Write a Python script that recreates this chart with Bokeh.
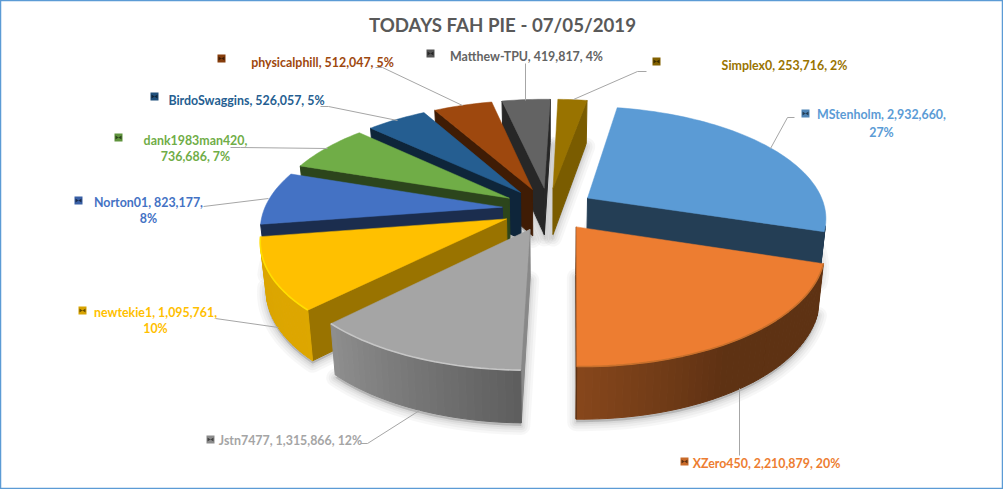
import numpy as np
from bokeh.plotting import figure
from bokeh.models import Range1d, ColumnDataSource
from bokeh.core.properties import value as bv
from bokeh.embed import file_html
from bokeh.resources import INLINE

# ---- data
names = ["MStenholm", "XZero450", "Jstn7477", "newtekie1", "Norton01", "dank1983man420",
         "BirdoSwaggins", "physicalphill", "Matthew-TPU", "Simplex0"]
values = [2932660, 2210879, 1315866, 1095761, 823177, 736686, 526057, 512047, 419817, 253716]
percents = [27, 20, 12, 10, 8, 7, 5, 5, 4, 2]
title = "TODAYS FAH PIE - 07/05/2019"

# ---- style
colors = ["#5B9BD5", "#ED7D31", "#A5A5A5", "#FFC000", "#4472C4", "#70AD47",
          "#255E91", "#9E480E", "#636363", "#997300"]
wall_shade = [.40, .40, .83, .60, .40, .40, .40, .40, .40, .80]
rim_colors = [None, "#c8702c", "#c6c6c6", "#ffdf00", None, None, None, None, None, None]
paint_order = [9, 8, 7, 6, 5, 4, 3, 0, 2, 1]

# ---- layout (page pixels)
wrap = [1, 0, 0, 1, 1, 2, 0, 0, 0, 0]            # 1: percent on line 2, 2: value on line 2
label_x = [881, 766, 290, 155, 148, 195, 246, 322, 526, 784]
label_y = [114, 463, 440, 312, 202, 140, 100, 62, 56, 65]
line2_y = [132, 0, 0, 328, 218, 156, 0, 0, 0, 0]
key_x = [805, 684, 210, 82, 78, 118, 154, 221, 430, 656]
key_y = [113, 461, 439, 310, 200, 137, 96, 58, 53, 61]
leaders = [
    ([794, 787, 770], [117, 117, 148]),
    ([739, 739], [455, 388]),
    ([360, 367, 419], [443, 443, 410]),
    ([215, 278], [318, 327]),
    ([203, 268], [206, 198]),
    ([230, 240, 327], [147, 147, 148]),
    ([320, 328, 397], [106, 106, 120]),
    ([375, 382, 462], [67, 67, 105]),
    ([525, 525], [63, 100]),
    ([646, 637, 573], [71, 71, 99]),
]
CX, CY, RX, RY, PERSP, EXPLODE, START = 548.0, 208.5, 238.0, 110.0, 0.165, 0.195, 10.0


def project(X, Y, low=False):
    X, Y = np.asarray(X, float), np.asarray(Y, float)
    s = 1.0 / (1.0 + PERSP * Y)
    x = RX * X * s
    y = CY - RY * Y * s
    if low:
        return CX + x * 0.98, y + 23 + 24 * s
    return CX + x, y


def shade(hex_color, f):
    c = [int(hex_color[i:i + 2], 16) for i in (1, 3, 5)]
    return "#%02x%02x%02x" % tuple(int(min(255, v * f)) for v in c)


def arc_shade(deg):
    return float(np.interp(deg, [100, 150, 181, 225, 261, 360], [.40, .40, .57, .87, .86, .8]))


p = figure(width=1003, height=489, x_range=Range1d(0, 1003), y_range=Range1d(489, 0),
           toolbar_location=None, output_backend="svg", min_border=0)
p.xaxis.visible = False
p.yaxis.visible = False
p.xgrid.visible = False
p.ygrid.visible = False
p.outline_line_color = "#5B9BD5"
p.outline_line_width = 1.5

fracs = np.array(values, float) / sum(values)
ends = START + np.cumsum(fracs) * 360.0
starts = ends - fracs * 360.0

geom = {}
for i in range(len(values)):
    a0, a1 = starts[i], ends[i]
    mid = np.radians((a0 + a1) / 2)
    ox, oy = EXPLODE * np.sin(mid), EXPLODE * np.cos(mid)
    deg = np.linspace(a0, a1, max(6, int((a1 - a0) / 1.5)))
    th = np.radians(deg)
    X = np.r_[ox, ox + np.sin(th)]
    Y = np.r_[oy, oy + np.cos(th)]
    geom[i] = (deg, X, Y)

# soft shadows under the slices
for w, al in [(18, .03), (13, .035), (8, .04), (4, .05)]:
    xs, ys = [], []
    for i in paint_order:
        deg, X, Y = geom[i]
        bx, by = project(X, Y, low=True)
        xs.append(list(bx))
        ys.append(list(by + 3))
    p.patches(xs, ys, fill_color="#000000", fill_alpha=al, line_color="#000000",
              line_alpha=al, line_width=w, line_join="round")

# slices, back to front
for i in paint_order:
    deg, X, Y = geom[i]
    tx, ty = project(X, Y)
    bx, by = project(X, Y, low=True)
    n = len(tx)
    qx, qy, qc = [], [], []
    for k in range(n):
        m = (k + 1) % n
        ax, ay = [tx[k], tx[m], bx[m], bx[k]], [ty[k], ty[m], by[m], by[k]]
        area = sum(ax[j] * ay[(j + 1) % 4] - ax[(j + 1) % 4] * ay[j] for j in range(4))
        if area >= 0:
            continue
        if k == 0 or k == n - 1:
            col = shade(colors[i], wall_shade[i])
        else:
            col = shade(colors[i], arc_shade((deg[k - 1] + deg[k]) / 2))
        qx.append(ax)
        qy.append(ay)
        qc.append(col)
    if qx:
        p.patches(qx, qy, fill_color=qc, line_color=qc, line_width=1)
    p.patch(list(tx), list(ty), fill_color=colors[i], line_color=colors[i], line_width=0.5)
    if rim_colors[i]:
        p.line(list(tx[1:]), list(ty[1:]), line_color=rim_colors[i], line_width=1.6)

# leader lines
p.multi_line([l[0] for l in leaders], [l[1] for l in leaders], line_color="#A6A6A6", line_width=1)

# legend keys: a small bevelled square with a dark bow-tie notch
for i in range(len(values)):
    kx, ky = key_x[i], key_y[i]
    p.rect([kx], [ky], width=8, height=8, width_units="screen", height_units="screen",
           fill_color=shade(colors[i], .85), line_color=None)
    p.patch([kx - 3, kx + 3, kx + 3, kx - 3], [ky - 2, ky + 2, ky - 2, ky + 2],
            fill_color=shade(colors[i], .4), line_color=None)

# labels
lx, ly, lt, lc = [], [], [], []
for i in range(len(values)):
    nm, v, pc = names[i], f"{values[i]:,}", f"{percents[i]}%"
    if wrap[i] == 1:
        lines = [f"{nm}, {v},", pc]
    elif wrap[i] == 2:
        lines = [f"{nm},", f"{v}, {pc}"]
    else:
        lines = [f"{nm}, {v}, {pc}"]
    lx += [label_x[i]]
    ly += [label_y[i]]
    lt += [lines[0]]
    lc += [colors[i]]
    if len(lines) > 1:
        lx += [label_x[i]]
        ly += [line2_y[i]]
        lt += [lines[1]]
        lc += [colors[i]]
src = ColumnDataSource(dict(x=lx, y=ly, t=lt, c=lc))
p.text("x", "y", text="t", source=src, text_color="c", text_font=bv("Lato"),
       text_font_style="bold", text_font_size="12.4px", text_align="center", text_baseline="middle")
p.text([502], [24], text=[title], text_color="#595959", text_font=bv("Lato"),
       text_font_style="bold", text_font_size="18.7px", text_align="center", text_baseline="middle")

open("out.html", "w").write(file_html(p, INLINE))
